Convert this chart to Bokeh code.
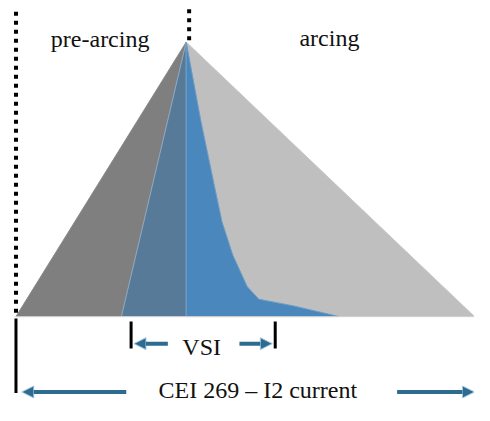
from bokeh.plotting import figure
from bokeh.models import Range1d, ColumnDataSource, Arrow, NormalHead
from bokeh.embed import file_html
from bokeh.resources import INLINE
from bokeh.core.properties import value

# ---- data (x: current axis, y: height above base) ----
base_left = 16
vsi_left = 125
peak_x = 192
base_right = 490
peak_h = 284

curve_x = [192, 207, 222, 229, 240, 255, 267, 303, 350]
curve_y = [284, 203, 131, 98, 64, 31, 18, 11, 0]

region_labels = ["pre-arcing", "arcing"]
region_label_x = [103, 340]
region_label_y = [287, 288]

vsi_bar_x = [135, 284]
cei_bar_x = [16]
vsi_label = "VSI"
cei_label = "CEI 269 \u2013 I2 current"

FONT = "Liberation Serif"
ARROW_C = "#2e6b90"
TXT_C = "#111111"

p = figure(width=474, height=405, output_backend="svg", toolbar_location=None,
           x_range=Range1d(0, 490), y_range=Range1d(-92, 327),
           min_border=0)
p.axis.visible = False
p.grid.visible = False
p.outline_line_color = None
p.background_fill_color = "white"

# light grey arcing triangle
p.patch([peak_x, base_right, peak_x], [peak_h, 0, 0],
        fill_color="#bfbfbf", line_color="#c8c8c8", line_width=1)
# dark grey pre-arcing
p.patch([base_left, peak_x, vsi_left], [0, peak_h, 0],
        fill_color="#7f7f7f", line_color="#8a8a8a", line_width=1)
# steel blue (pre-arcing part of VSI)
p.patch([vsi_left, peak_x, peak_x], [0, peak_h, 0],
        fill_color="#577a98", line_color="#8ea9c2", line_width=1)
# blue (arcing part of VSI)
p.patch([peak_x] + curve_x + [peak_x], [0] + curve_y + [0],
        fill_color="#4a87bd", line_color="#6d9cc6", line_width=1)
# faint line in arcing region
p.line([peak_x, 300], [peak_h, 150], line_color="#b5c4d2", line_width=1, line_alpha=0.6)
# base
p.line([base_left, base_right], [0, 0], line_color="#d0d0d0", line_width=1)

# dotted boundaries
p.line([16, 16], [4, 319], line_color="black", line_width=4, line_dash="4 5")
p.line([195, 195], [286, 319], line_color="black", line_width=4, line_dash="4 5")

# bars
p.segment(x0=vsi_bar_x, y0=[-5, -5], x1=vsi_bar_x, y1=[-33, -33],
          line_color="black", line_width=3)
p.segment(x0=cei_bar_x, y0=[-2], x1=cei_bar_x, y1=[-79],
          line_color="black", line_width=3)

# arrows
arr = ColumnDataSource(dict(
    xs=[173, 247, 130, 410], ys=[-28, -28, -78, -78],
    xe=[138, 281, 22, 490], ye=[-28, -28, -78, -78]))
p.add_layout(Arrow(end=NormalHead(size=12, fill_color=ARROW_C, line_color="#a8c8e0", line_width=1),
                   x_start="xs", y_start="ys", x_end="xe", y_end="ye", source=arr,
                   line_color=ARROW_C, line_width=4))

# texts
p.text(x=region_label_x, y=region_label_y, text=region_labels,
       text_font=value(FONT), text_font_size="24px", text_color=TXT_C,
       text_align="center", text_baseline="alphabetic")
p.text(x=[208], y=[-31], text=[vsi_label],
       text_font=value(FONT), text_font_size="24px", text_color=TXT_C,
       text_align="center", text_baseline="middle")
p.text(x=[266], y=[-76], text=[cei_label],
       text_font=value(FONT), text_font_size="24px", text_color=TXT_C,
       text_align="center", text_baseline="middle")

open("out.html", "w").write(file_html(p, INLINE))
